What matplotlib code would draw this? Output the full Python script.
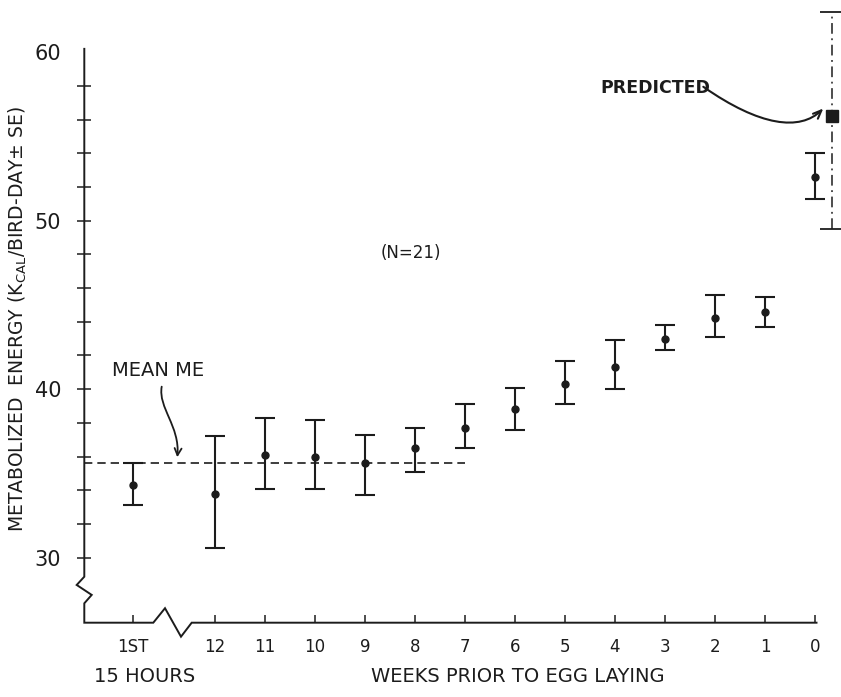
import matplotlib
matplotlib.use('Agg')
import matplotlib.pyplot as plt
import numpy as np
from matplotlib.patches import FancyArrowPatch
from matplotlib.path import Path

# weeks prior to egg laying ('1ST' = first 15 hours)
week_labels = ['1ST', '12', '11', '10', '9', '8', '7', '6', '5', '4', '3', '2', '1', '0']
me_mean = [34.3, 33.8, 36.1, 36.0, 35.6, 36.5, 37.7, 38.8, 40.3, 41.3, 43.0, 44.2, 44.6, 52.6]
me_low = [33.1, 30.6, 34.1, 34.1, 33.7, 35.1, 36.5, 37.6, 39.1, 40.0, 42.3, 43.1, 43.7, 51.3]
me_high = [35.6, 37.2, 38.3, 38.2, 37.3, 37.7, 39.1, 40.1, 41.7, 42.9, 43.8, 45.6, 45.5, 54.0]

predicted_mean = 56.2
predicted_low = 49.5
predicted_high = 62.4
mean_me = 35.6
mean_me_until_week = 7

INK = '#1c1c1c'
BREAK_X = -1.64          # where the "1st 15 hours" point sits, left of the axis break
PRED_X = 12.34           # predicted value drawn just right of week 0

plt.rcParams['font.family'] = 'DejaVu Sans'
fig = plt.figure(figsize=(8.41, 6.97), dpi=100)
W, H = 841, 697
ax = fig.add_axes([84.3 / W, (H - 622.7) / H, (W - 84.3) / W, 622.7 / H])
x_left, x_right = -2.614, 12.52
y_bot, y_top = 26.14, 63.10
ax.set_xlim(x_left, x_right)
ax.set_ylim(y_bot, y_top)
for s in ax.spines.values():
    s.set_visible(False)

x = np.r_[BREAK_X, np.arange(1, len(week_labels)) - 1]
mean = np.array(me_mean)
yerr = [mean - np.array(me_low), np.array(me_high) - mean]

ax.errorbar(x, mean, yerr=yerr, fmt='o', color=INK, ms=5, elinewidth=1.5,
            capsize=7, capthick=1.5, clip_on=False)

# predicted value
pl = ax.errorbar([PRED_X], [predicted_mean],
                 yerr=[[predicted_mean - predicted_low], [predicted_high - predicted_mean]],
                 fmt='s', color=INK, ms=8, elinewidth=1.1, capsize=9, capthick=1.3,
                 clip_on=False)
pl[2][0].set_linestyle((0, (7, 3, 1.2, 3)))

# mean ME dashed line
ax.plot([x_left, 12 - mean_me_until_week], [mean_me, mean_me], color=INK, lw=1.2,
        ls=(0, (5, 3)))

# axes with breaks
ax.plot([x_left, x_left, -2.766, -2.466, x_left, x_left, -1.234, -1.0, -0.68, -0.466, 12.03],
        [60.2, 28.87, 28.38, 27.79, 27.29, y_bot, y_bot, 27.0, 25.31, y_bot, y_bot],
        color=INK, lw=1.4, clip_on=False, solid_joinstyle='miter')

ax.set_xticks(x)
ax.set_xticklabels(week_labels, fontsize=12, color=INK)
ax.tick_params(axis='x', direction='in', length=5.5, width=1.1, color=INK, pad=11)
ax.set_yticks([30, 40, 50, 60])
ax.set_yticks(np.arange(32, 60, 2), minor=True)
ax.set_yticklabels(['30', '40', '50', '60'], fontsize=15, color=INK)
ax.tick_params(axis='y', which='both', direction='inout', length=9.5, width=1.1,
               color=INK, pad=12)
ax.yaxis.get_major_ticks()[-1].tick1line.set_visible(False)

# labels
ax.text(-1.4, 22.92, '15 HOURS', ha='center', va='center', fontsize=14, color=INK,
        clip_on=False)
ax.text(6.06, 22.92, 'WEEKS PRIOR TO EGG LAYING', ha='center', va='center', fontsize=14,
        color=INK, clip_on=False)
fig.text(18 / W, 1 - 319 / H, r'METABOLIZED  ENERGY (K$_{\mathrm{CAL}}$/BIRD-DAY$\pm$ SE)',
         rotation=90, ha='center', va='center', fontsize=13.5, color=INK)
ax.text(3.92, 48.08, '(N=21)', ha='center', va='center', fontsize=12, color=INK)
ax.text(-1.14, 41.08, 'MEAN ME', ha='center', va='center', fontsize=14, color=INK)
ax.text(8.8, 57.9, 'PREDICTED', ha='center', va='center', fontsize=12.5,
        fontweight='semibold', color=INK)

# hand-drawn pointer arrows
mean_path = Path([(-1.066, 40.15), (-1.14, 38.9), (-0.70, 37.8), (-0.754, 35.96)],
                 [Path.MOVETO, Path.CURVE4, Path.CURVE4, Path.CURVE4])
ax.add_patch(FancyArrowPatch(path=mean_path, arrowstyle='->,head_length=5,head_width=2.5',
                             color=INK, lw=1.3))
pred_path = Path([(9.766, 57.95), (10.9, 55.6), (11.7, 55.3), (12.166, 56.66)],
                 [Path.MOVETO, Path.CURVE4, Path.CURVE4, Path.CURVE4])
ax.add_patch(FancyArrowPatch(path=pred_path, arrowstyle='->,head_length=6,head_width=2.5',
                             color=INK, lw=1.5, clip_on=False))

fig.savefig('out.png', dpi=100, facecolor='white')
